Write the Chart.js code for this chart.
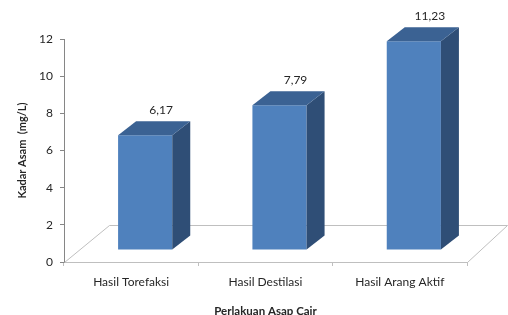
<!DOCTYPE html>
<html>
<head>
<meta charset="utf-8">
<script src="https://cdn.jsdelivr.net/npm/chart.js@4"></script>
<style>
  html, body { margin: 0; padding: 0; background: #fff; }
  #wrap { width: 508px; height: 315px; }
</style>
</head>
<body>
<div id="wrap"><canvas id="kadarChart" width="508" height="315"></canvas></div>
<script>
// data
const kategori = ["Hasil Torefaksi", "Hasil Destilasi", "Hasil Arang Aktif"];
const kadarAsam = [6.17, 7.79, 11.23];
const yTicks = [0, 2, 4, 6, 8, 10, 12];

const judulY = "Kadar Asam  (mg/L)";
const judulX = "Perlakuan Asap Cair";

// warna batang 3D
const warnaDepan = "#4F81BD";
const warnaAtas = "#3B6293";
const warnaSamping = "#2F4E76";

// geser batang ke dalam (efek 3D) dan kedalaman batang
const geserX = 14, geserY = -12;
const dalamX = 18, dalamY = -14;

const fontTeks = "Lato, 'Open Sans', sans-serif";

// plugin: lantai 3D, batang bergeser, sisi & atas batang, label nilai
const efek3D = {
  id: "efek3D",
  beforeDatasetsDraw(chart) {
    const ctx = chart.ctx;
    const a = chart.chartArea;
    // lantai (garis abu-abu)
    ctx.save();
    ctx.strokeStyle = "#BFBFBF";
    ctx.lineWidth = 1;
    ctx.beginPath();
    ctx.moveTo(a.left + 0.5, a.bottom + 0.5);
    ctx.lineTo(a.left + 45.5, a.bottom - 36.5);
    ctx.lineTo(a.right + 40.5, a.bottom - 36.5);
    ctx.lineTo(a.right + 0.5, a.bottom + 0.5);
    ctx.stroke();
    ctx.restore();

    ctx.save();
    ctx.translate(geserX, geserY);
  },
  afterDatasetsDraw(chart) {
    const ctx = chart.ctx;
    ctx.restore();
    const meta = chart.getDatasetMeta(0);
    ctx.save();
    meta.data.forEach((bar, i) => {
      const kiri = bar.x - bar.width / 2 + geserX;
      const kanan = bar.x + bar.width / 2 + geserX;
      const atas = bar.y + geserY;
      const bawah = bar.base + geserY;

      // sisi kanan
      ctx.fillStyle = warnaSamping;
      ctx.beginPath();
      ctx.moveTo(kanan, atas);
      ctx.lineTo(kanan + dalamX, atas + dalamY);
      ctx.lineTo(kanan + dalamX, bawah + dalamY);
      ctx.lineTo(kanan, bawah);
      ctx.closePath();
      ctx.fill();

      // sisi atas
      ctx.fillStyle = warnaAtas;
      ctx.beginPath();
      ctx.moveTo(kiri, atas);
      ctx.lineTo(kiri + dalamX, atas + dalamY);
      ctx.lineTo(kanan + dalamX, atas + dalamY);
      ctx.lineTo(kanan, atas);
      ctx.closePath();
      ctx.fill();

      // label nilai
      ctx.fillStyle = "#262626";
      ctx.font = "12px " + fontTeks;
      ctx.textAlign = "center";
      ctx.textBaseline = "middle";
      const teks = kadarAsam[i].toFixed(2).replace(".", ",");
      ctx.fillText(teks, bar.x + 30, atas + dalamY - 11);
    });
    ctx.restore();
  }
};

const ctx = document.getElementById("kadarChart");
new Chart(ctx, {
  type: "bar",
  data: {
    labels: kategori,
    datasets: [{
      data: kadarAsam,
      backgroundColor: warnaDepan,
      borderWidth: 0,
      barPercentage: 0.9,
      categoryPercentage: 0.448
    }]
  },
  options: {
    responsive: false,
    animation: false,
    layout: { padding: { top: 39, right: 41, left: 0, bottom: 0 } },
    plugins: {
      legend: { display: false },
      tooltip: { enabled: false }
    },
    scales: {
      x: {
        afterFit(scale) { scale.height = 53; },
        grid: { drawOnChartArea: false, drawTicks: true, tickLength: 4, color: "#BFBFBF", offset: true },
        border: { color: "#BFBFBF" },
        ticks: { color: "#262626", font: { family: fontTeks, size: 12 }, padding: 9, maxRotation: 0 },
        title: {
          display: true,
          text: judulX,
          color: "#262626",
          font: { family: fontTeks, size: 11.5, weight: "bold", lineHeight: 0.6 },
          padding: { top: 0, bottom: 0 }
        }
      },
      y: {
        min: yTicks[0],
        max: yTicks[yTicks.length - 1],
        afterFit(scale) { scale.width = 64; },
        afterBuildTicks(scale) { scale.ticks = yTicks.map(v => ({ value: v })); },
        grid: { drawOnChartArea: false, drawTicks: true, tickLength: 4, color: "#868686" },
        border: { color: "#868686" },
        ticks: { color: "#262626", font: { family: fontTeks, size: 12 }, padding: 7 },
        title: {
          display: true,
          text: judulY,
          color: "#262626",
          font: { family: fontTeks, size: 11, weight: "bold", lineHeight: 1 },
          padding: { top: 17, bottom: 0 }
        }
      }
    }
  },
  plugins: [efek3D]
});
</script>
</body>
</html>
